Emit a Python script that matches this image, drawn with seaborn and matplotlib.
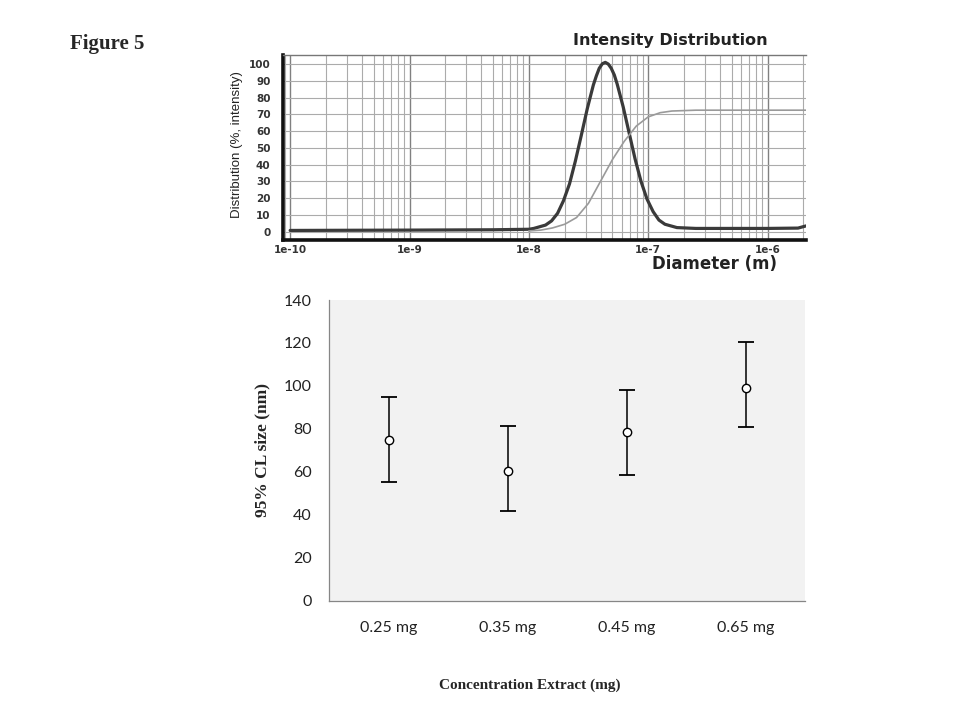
import numpy as np
import pandas as pd
import matplotlib
matplotlib.use("Agg")
import matplotlib.pyplot as plt
import matplotlib.ticker as mticker
import seaborn as sns

# Top panel: intensity distribution
diam_int = [1e-10, 1e-9, 5e-9, 1.0e-8, 1.10e-8, 1.38e-8, 1.55e-8, 1.74e-8, 1.95e-8,
            2.19e-8, 2.45e-8, 2.75e-8, 3.09e-8, 3.47e-8, 3.68e-8, 3.89e-8, 4.13e-8,
            4.37e-8, 4.63e-8, 4.90e-8, 5.20e-8, 5.50e-8, 6.17e-8, 6.92e-8, 7.76e-8,
            8.71e-8, 9.77e-8, 1.10e-7, 1.23e-7, 1.38e-7, 1.74e-7, 2.5e-7, 1e-6,
            1.8e-6, 2.1e-6]
intensity = [0.8, 1.0, 1.2, 1.5, 2.0, 4.0, 6.5, 11.0, 18.5,
             28.5, 42.0, 57.5, 73.5, 87.5, 93.0, 97.5, 100.2,
             101.0, 100.0, 97.5, 93.5, 88.0, 74.5, 59.0, 43.5,
             30.0, 19.5, 12.0, 7.0, 4.5, 2.5, 2.0, 2.0,
             2.2, 3.5]

diam_cum = [1.0e-8, 1.26e-8, 1.58e-8, 2.0e-8, 2.51e-8, 3.16e-8, 3.98e-8, 5.01e-8,
            6.31e-8, 7.94e-8, 1.0e-7, 1.26e-7, 1.58e-7, 2.51e-7, 1e-6, 2.1e-6]
cumulative = [0.5, 1.0, 2.3, 4.5, 8.5, 17.0, 30.0, 43.0,
              54.0, 63.0, 68.5, 71.0, 72.0, 72.5, 72.5, 72.5]

# Bottom panel: 95% CL size per concentration
conc = ["0.25 mg", "0.35 mg", "0.45 mg", "0.65 mg"]
size_mean = [75.0, 60.3, 78.3, 99.0]
size_low = [55.0, 41.6, 58.4, 80.7]
size_high = [94.8, 81.3, 98.3, 120.4]

sns.set_style("white")
plt.rcParams["font.family"] = ["DejaVu Sans"]

fig = plt.figure(figsize=(9.6, 7.2), dpi=100)

# ---------------- top panel ----------------
ax1 = fig.add_axes([283/960, 1-240/720, 523/960, 185/720])
ax1.set_xscale("log")
ax1.set_xlim(10**-10.06, 2.1e-6)
ax1.set_ylim(-4.9, 105.4)

ax1.xaxis.set_major_locator(mticker.LogLocator(base=10, numticks=20))
ax1.xaxis.set_minor_locator(mticker.LogLocator(base=10, subs=np.arange(2, 10), numticks=20))
ax1.set_xticks([1e-10, 1e-9, 1e-8, 1e-7, 1e-6])
ax1.set_xticklabels(["1e-10", "1e-9", "1e-8", "1e-7", "1e-6"])
ax1.set_yticks(range(0, 101, 10))
ax1.yaxis.set_minor_locator(mticker.MultipleLocator(2))

ax1.grid(which="major", axis="x", color="#808080", lw=1.0)
ax1.grid(which="minor", axis="x", color="#ababab", lw=0.8)
ax1.grid(which="major", axis="y", color="#ababab", lw=0.8)
ax1.set_axisbelow(True)

sns.lineplot(x=diam_int, y=intensity, ax=ax1, color="#3a3a3a", lw=2.3, estimator=None)
sns.lineplot(x=diam_cum, y=cumulative, ax=ax1, color="#9a9a9a", lw=1.2, estimator=None)

for s in ["left", "bottom"]:
    ax1.spines[s].set_color("#111111")
    ax1.spines[s].set_linewidth(2.6)
ax1.spines["top"].set_color("#777777")
ax1.spines["top"].set_linewidth(1.0)
ax1.spines["right"].set_visible(False)

ax1.tick_params(axis="both", which="major", labelsize=7.5, colors="#333333",
                length=3, width=0.8, direction="out")
ax1.tick_params(axis="x", which="major", pad=1.5, length=2)
ax1.tick_params(axis="y", which="major", pad=6)
ax1.tick_params(axis="x", which="minor", length=0)
ax1.tick_params(axis="y", which="minor", length=2, width=0.5, color="#777777")
for lab in ax1.get_xticklabels() + ax1.get_yticklabels():
    lab.set_fontweight("bold")
ax1.set_xlabel("")
ax1.set_ylabel("")

fig.text(670/960, 1-41/720, "Intensity Distribution", ha="center", va="center",
         fontsize=11.5, fontweight="bold", color="#222222")
fig.text(715/960, 1-264/720, "Diameter (m)", ha="center", va="center",
         fontsize=12, fontweight="bold", color="#222222")
fig.text(237/960, 1-145/720, "Distribution (%, intensity)", ha="center", va="center",
         rotation=90, fontsize=9.5, color="#222222",
         family=["Liberation Sans Narrow", "Liberation Sans", "DejaVu Sans"])

# ---------------- bottom panel ----------------
ax2 = fig.add_axes([329/960, 1-600.5/720, 476/960, 300.5/720])
ax2.set_facecolor("#f2f2f2")

pos = np.arange(len(conc))
yerr = [np.array(size_mean) - np.array(size_low), np.array(size_high) - np.array(size_mean)]
ax2.errorbar(pos, size_mean, yerr=yerr, fmt="none", ecolor="black", elinewidth=1.1,
             capsize=5.5, capthick=1.3, zorder=2)
sns.scatterplot(x=pos, y=size_mean, ax=ax2, marker="o", s=36, color="white",
                edgecolor="black", linewidth=1.0, zorder=3)

ax2.set_xlim(-0.5, len(conc) - 0.5)
ax2.set_ylim(0, 140)
ax2.set_yticks(range(0, 141, 20))
ax2.set_xticks(np.arange(-0.5, len(conc), 1.0))
ax2.set_xticklabels([])
ax2.set_xticks(pos, minor=True)
ax2.set_xticklabels(conc, minor=True)

for s in ["top", "right"]:
    ax2.spines[s].set_visible(False)
for s in ["left", "bottom"]:
    ax2.spines[s].set_color("#868686")
    ax2.spines[s].set_linewidth(0.9)

tick_font = ["Lato", "DejaVu Sans"]
ax2.tick_params(axis="y", which="major", length=3.5, width=0.9, color="#868686",
                pad=9, labelsize=11.5, labelcolor="#222222")
ax2.tick_params(axis="x", which="major", length=4, width=0.9, color="#868686")
ax2.tick_params(axis="x", which="minor", length=0, pad=15, labelsize=11.5,
                labelcolor="#222222")
for lab in ax2.get_yticklabels() + ax2.get_xticklabels(minor=True):
    lab.set_family(tick_font)
ax2.set_xlabel("")
ax2.set_ylabel("")

fig.text(262/960, 1-450/720, "95% CL size (nm)", ha="center", va="center",
         rotation=90, fontsize=12.5, fontweight="bold", family=["Liberation Serif", "DejaVu Serif"])
fig.text(530/960, 1-685/720, "Concentration Extract (mg)", ha="center", va="center",
         fontsize=11, fontweight="bold", family=["Liberation Serif", "DejaVu Serif"])

fig.text(70/960, 1-44/720, "Figure 5", ha="left", va="center",
         fontsize=15, fontweight="bold", family=["Liberation Serif", "DejaVu Serif"])

fig.savefig("out.png", dpi=100, facecolor="white")
